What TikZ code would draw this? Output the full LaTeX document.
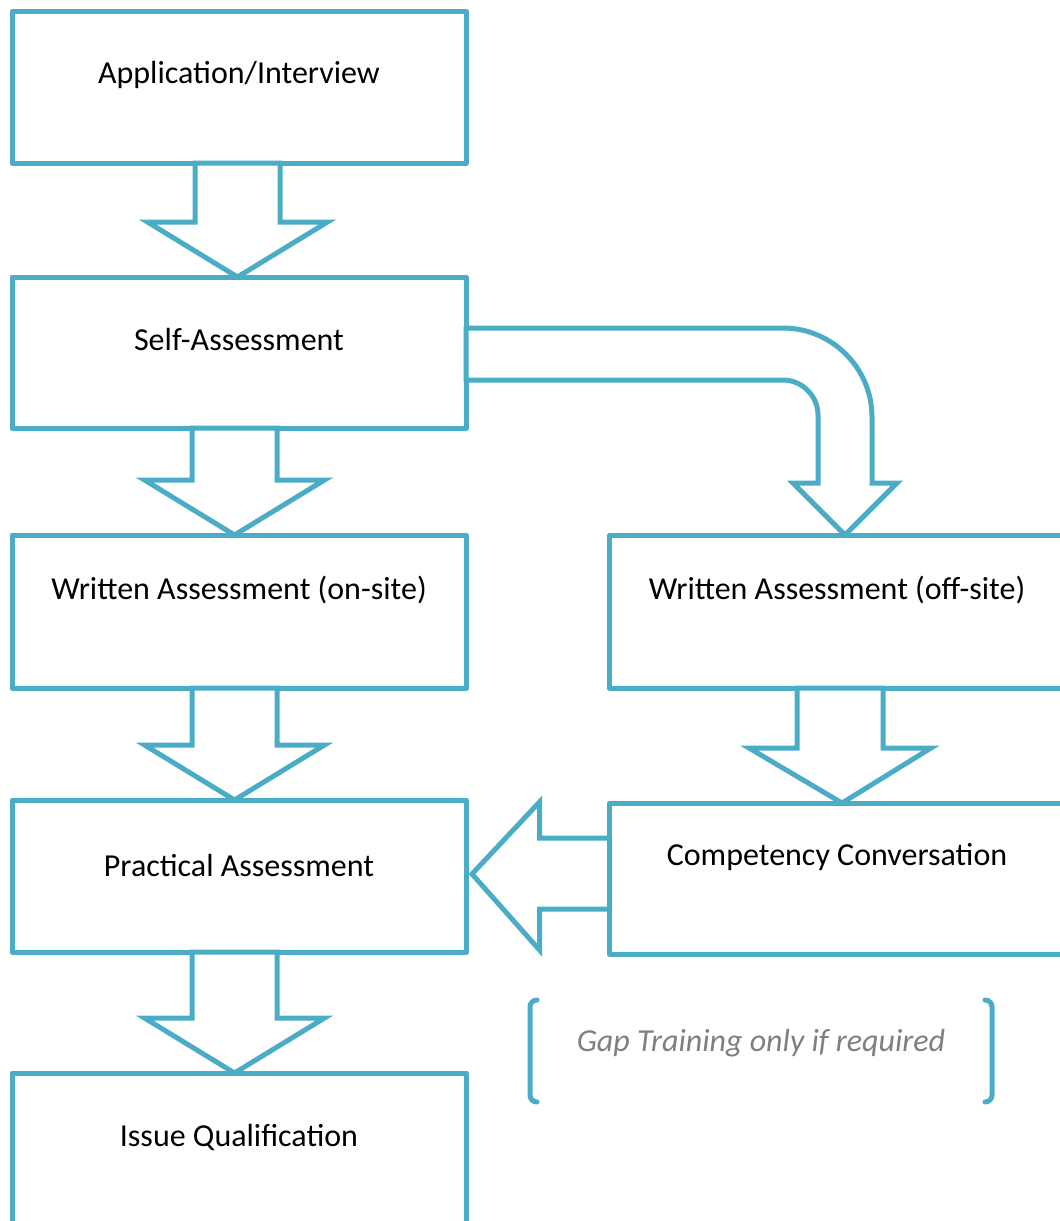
\documentclass[tikz,border=0pt]{standalone}
\usepackage{fontspec}
\setmainfont{Carlito}
\usetikzlibrary{calc}
\definecolor{acc}{HTML}{4BACC6}
\definecolor{note}{HTML}{7F7F7F}
\tikzset{
  box/.style={draw=acc, line width=5pt, line join=round, rectangle, minimum width=454pt, inner sep=0pt, outer sep=0pt, fill=white},
  txt/.style={font=\fontsize{32}{38}\selectfont, text=black, inner sep=0pt},
  blockarrow/.style={draw=acc, line width=5pt, line join=miter, fill=white},
  brk/.style={draw=acc, line width=5pt, line cap=round},
  notetxt/.style={font=\fontsize{32}{38}\selectfont\itshape, text=note, inner sep=0pt}
}
\begin{document}
\begin{tikzpicture}[x=1pt, y=-1pt]
\useasboundingbox (0,0) rectangle (1060,1221);
\clip (0,0) rectangle (1060,1221);
% boxes
\node[box, minimum height=152pt] (b1) at (239,87) {};
\node[box, minimum height=151pt] (b2) at (239,352.5) {};
\node[box, minimum height=153pt] (b3) at (239,611.5) {};
\node[box, minimum height=153pt] (b4) at (836.5,611.5) {};
\node[box, minimum height=152pt] (b5) at (239,876) {};
\node[box, minimum height=151pt] (b6) at (836.5,878.5) {};
\node[box, minimum height=152pt] (b7) at (239,1149) {};
% texts
\node[txt] (t1) at (239,75) {Application/Interview};
\node[txt] (t2) at (239,340) {Self-Assessment};
\node[txt] (t3) at (239,590) {Written Assessment (on-site)};
\node[txt] (t4) at (837,590) {Written Assessment (off-site)};
\node[txt] (t5) at (239,865) {Practical Assessment};
\node[txt] (t6) at (837,857) {Competency Conversation};
\node[txt] (t7) at (239,1137) {Issue Qualification};
% down block arrows (left column)
\foreach \a/\b/\dx in {b1/b2/-1.5, b2/b3/-4.5, b3/b5/-4.5, b5/b7/-4.5}{
  \draw[blockarrow]
    ($(\a.south)+(\dx-42.5,0)$) -- ($(\a.south)+(\dx+42.5,0)$)
    -- ($(\b.north)+(\dx+42.5,-55)$) -- ($(\b.north)+(\dx+90,-55)$)
    -- ($(\b.north)+(\dx,0)$) -- ($(\b.north)+(\dx-90,-55)$)
    -- ($(\b.north)+(\dx-42.5,-55)$) -- cycle;
}
% down block arrow (right column)
\draw[blockarrow]
    ($(b4.south)+(3.5-43,0)$) -- ($(b4.south)+(3.5+43,0)$)
    -- ($(b6.north)+(3.5+43,-55)$) -- ($(b6.north)+(3.5+91,-55)$)
    -- ($(b6.north)+(5.5,0)$) -- ($(b6.north)+(3.5-91,-55)$)
    -- ($(b6.north)+(3.5-43,-55)$) -- cycle;
% bent arrow from Self-Assessment to off-site
\coordinate (bs) at ($(b2.east)+(0,-24.5)$);
\draw[blockarrow]
    (bs) -- ($(bs)+(317,0)$)
    .. controls ($(bs)+(366,0)$) and ($(bs)+(406,40)$) .. ($(bs)+(406,89)$)
    -- ($(b4.north)+(35.5,-52)$) -- ($(b4.north)+(60.5,-52)$)
    -- ($(b4.north)+(8.5,0)$) -- ($(b4.north)+(-43.5,-52)$)
    -- ($(b4.north)+(-18.5,-52)$) -- ($(bs)+(352,87)$)
    .. controls ($(bs)+(352,68)$) and ($(bs)+(336,52)$) .. ($(bs)+(317,52)$)
    -- ($(bs)+(0,52)$) -- cycle;
% left block arrow from Competency Conversation to Practical Assessment
\coordinate (ls) at ($(b6.west)+(0,-5)$);
\draw[blockarrow]
    ($(ls)+(0,-35.5)$) -- ($(ls)+(-70,-35.5)$) -- ($(ls)+(-70,-71.5)$)
    -- ($(b5.east)+(6,-2)$) -- ($(ls)+(-70,76.5)$)
    -- ($(ls)+(-70,35.5)$) -- ($(ls)+(0,35.5)$) -- cycle;
% note with brackets
\node[notetxt] (gap) at (761,1043) {Gap Training only if required};
\coordinate (lb) at (530,1051);
\coordinate (rb) at (992,1051);
\draw[brk] ($(lb)+(7,-51)$) .. controls ($(lb)+(3,-51)$) and ($(lb)+(0,-48)$) .. ($(lb)+(0,-44)$)
  -- ($(lb)+(0,44)$) .. controls ($(lb)+(0,48)$) and ($(lb)+(3,51)$) .. ($(lb)+(7,51)$);
\draw[brk] ($(rb)+(-7,-51)$) .. controls ($(rb)+(-3,-51)$) and ($(rb)+(0,-48)$) .. ($(rb)+(0,-44)$)
  -- ($(rb)+(0,44)$) .. controls ($(rb)+(0,48)$) and ($(rb)+(-3,51)$) .. ($(rb)+(-7,51)$);
\end{tikzpicture}
\end{document}
